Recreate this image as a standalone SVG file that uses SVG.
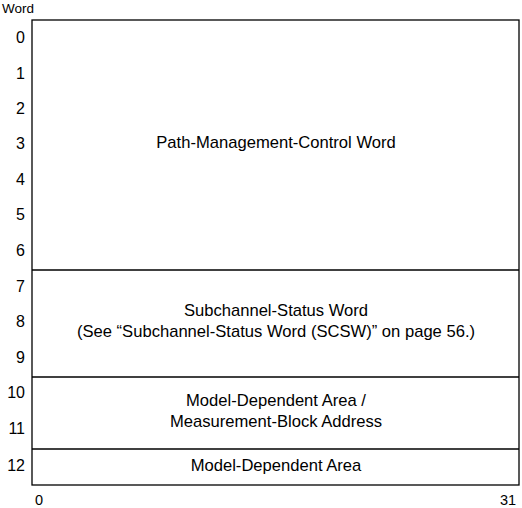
<svg xmlns="http://www.w3.org/2000/svg" width="522" height="508" viewBox="0 0 522 508">
<style>
text{font-family:"Liberation Sans",Arial,sans-serif;fill:#000}
.n{font-size:16px;text-anchor:end}
.l{font-size:16.6px;text-anchor:middle}
.b{fill:none;stroke:#000;stroke-width:1.3}
</style>
<rect width="522" height="508" fill="#fff"/>
<text x="2" y="13" style="font-size:13.5px">Word</text>
<g id="rows">
<text class="n" x="25" y="43">0</text>
<text class="n" x="25" y="79">1</text>
<text class="n" x="25" y="114">2</text>
<text class="n" x="25" y="149">3</text>
<text class="n" x="25" y="185">4</text>
<text class="n" x="25" y="220">5</text>
<text class="n" x="25" y="256">6</text>
<text class="n" x="25" y="292">7</text>
<text class="n" x="25" y="327">8</text>
<text class="n" x="25" y="363">9</text>
<text class="n" x="25" y="398">10</text>
<text class="n" x="25" y="434">11</text>
<text class="n" x="25" y="471">12</text>
</g>
<g id="frame">
<rect class="b" x="32" y="20" width="487" height="465"/>
<line class="b" x1="32" y1="270" x2="519" y2="270"/>
<line class="b" x1="32" y1="377" x2="519" y2="377"/>
<line class="b" x1="32" y1="449" x2="519" y2="449"/>
</g>
<g id="pmcw"><text class="l" x="276" y="148">Path-Management-Control Word</text></g>
<g id="scsw"><text class="l" x="276" y="316">Subchannel-Status Word</text>
<text class="l" x="276" y="337">(See “Subchannel-Status Word (SCSW)” on page 56.)</text></g>
<g id="mda"><text class="l" x="276" y="406">Model-Dependent Area /</text>
<text class="l" x="276" y="427">Measurement-Block Address</text></g>
<g id="mda2"><text class="l" x="276" y="471">Model-Dependent Area</text></g>
<text x="35" y="505" style="font-size:14.5px">0</text>
<text x="500" y="505" style="font-size:14.5px">31</text>
</svg>
